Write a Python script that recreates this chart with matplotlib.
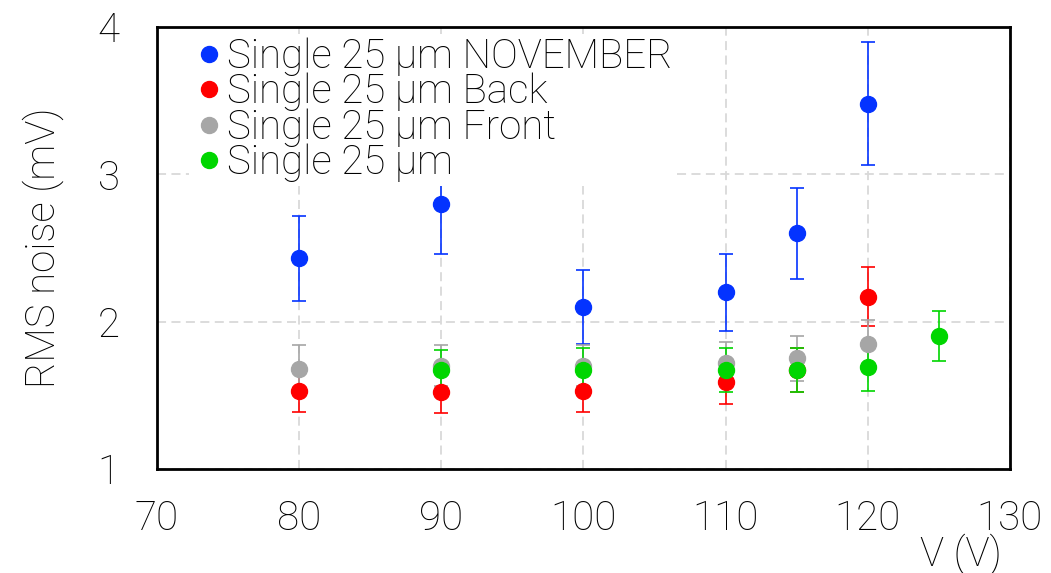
import matplotlib
matplotlib.use("Agg")
import matplotlib.pyplot as plt
from matplotlib.lines import Line2D

plt.rcParams["font.family"] = ["Roboto", "DejaVu Sans"]
plt.rcParams["font.weight"] = "light"
plt.rcParams["axes.labelweight"] = "light"

# Bias voltage (V) and RMS noise (mV) with uncertainties
v_nov = [80, 90, 100, 110, 115, 120]
noise_nov = [2.43, 2.80, 2.10, 2.20, 2.60, 3.48]
err_nov = [0.29, 0.34, 0.25, 0.26, 0.31, 0.42]

v_back = [80, 90, 100, 110, 115, 120]
noise_back = [1.53, 1.52, 1.53, 1.59, 1.67, 2.17]
err_back = [0.14, 0.14, 0.14, 0.15, 0.15, 0.20]

v_front = [80, 90, 100, 110, 115, 120]
noise_front = [1.68, 1.70, 1.70, 1.72, 1.75, 1.85]
err_front = [0.16, 0.14, 0.14, 0.14, 0.15, 0.16]

v_single = [90, 100, 110, 115, 120, 125]
noise_single = [1.67, 1.67, 1.67, 1.67, 1.69, 1.90]
err_single = [0.14, 0.15, 0.15, 0.15, 0.16, 0.17]

labels = ["Single 25 μm NOVEMBER", "Single 25 μm Back",
          "Single 25 μm Front", "Single 25 μm"]
colors = ["#0433ff", "#ff0000", "#a6a6a6", "#00d600"]

x_ticks = [70, 80, 90, 100, 110, 120, 130]
y_ticks = [1, 2, 3, 4]

fig = plt.figure(figsize=(10.51, 5.73), dpi=100)
ax = fig.add_axes([0.1494, 0.1815, 0.8115, 0.7714])

series = [(v_nov, noise_nov, err_nov), (v_back, noise_back, err_back),
          (v_front, noise_front, err_front), (v_single, noise_single, err_single)]
for (x, y, e), lab, c in zip(series, labels, colors):
    ax.errorbar(x, y, yerr=e, fmt="o", color=c, ecolor=c, markersize=11.5,
                elinewidth=1.2, capsize=5, capthick=1.2, zorder=3)

ax.set_xlim(70, 130)
ax.set_ylim(1, 4)
ax.set_xticks(x_ticks)
ax.set_yticks(y_ticks)
ax.tick_params(axis="both", length=0, labelsize=29)
ax.tick_params(axis="x", pad=22)
ax.tick_params(axis="y", pad=27)
ax.grid(True, color="#d9d9d9", linestyle=(0, (5, 3)), linewidth=1.3, zorder=0)
ax.set_axisbelow(True)
for s in ax.spines.values():
    s.set_linewidth(2)
    s.set_color("black")
    s.set_zorder(6)

ax.set_ylabel("RMS noise (mV)", fontsize=29, labelpad=24)
fig.text(0.953, -0.003, "V (V)", fontsize=29, ha="right", va="bottom")

handles = [Line2D([], [], linestyle="none", marker="o", markersize=11.5,
                  color=c) for c in colors]
leg = ax.legend(handles, labels, loc="upper left",
                bbox_to_anchor=(0.037, 0.985), fontsize=29,
                frameon=True, facecolor="white", edgecolor="none", framealpha=1,
                handletextpad=0.05, handlelength=0.8, labelspacing=-0.08,
                borderpad=0.1, borderaxespad=0.0)
leg.set_zorder(5)

fig.savefig("out.png", dpi=100)
